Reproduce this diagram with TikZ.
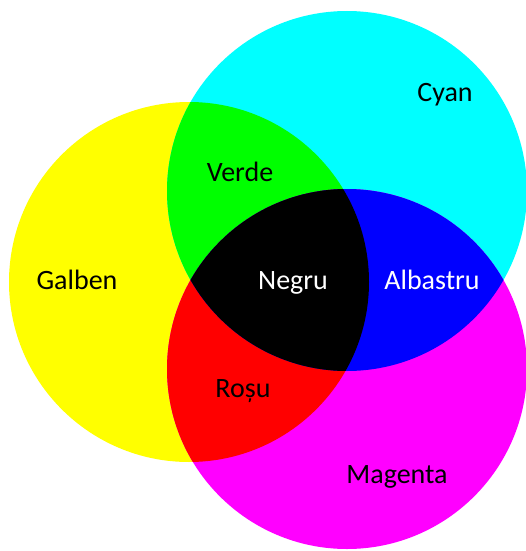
\documentclass[tikz,border=0pt]{standalone}
\usepackage{fontspec}
\setmainfont{Carlito}
\usepackage{tikz}
\definecolor{cyanfill}{RGB}{0,255,255}
\definecolor{magentafill}{RGB}{255,0,255}
\definecolor{yellowfill}{RGB}{255,255,0}
\definecolor{greenfill}{RGB}{0,255,0}
\definecolor{redfill}{RGB}{255,0,0}
\definecolor{bluefill}{RGB}{0,0,255}
\tikzset{
  mixlabel/.style = {anchor=base, inner sep=0pt, font=\fontsize{28}{34}\selectfont},
  darklabel/.style = {mixlabel, text=white}
}
\def\cyanpath{(347,191) circle (180)}
\def\magentapath{(347,369) circle (180)}
\def\yellowpath{(189,282) circle (180)}

\begin{document}
\begin{tikzpicture}[x=1pt, y=-1pt]
\useasboundingbox (0,0) rectangle (525,551);
% base circles
\fill[yellowfill]  \yellowpath;
\fill[cyanfill]    \cyanpath;
\fill[magentafill] \magentapath;
% pairwise overlaps
\begin{scope}
  \clip \yellowpath;
  \fill[greenfill] \cyanpath;
  \fill[redfill] \magentapath;
\end{scope}
\begin{scope}
  \clip \cyanpath;
  \fill[bluefill] \magentapath;
  \clip \magentapath;
  \fill[black] \yellowpath;
\end{scope}

\node[mixlabel]  (cyan)     at (445,101) {Cyan};
\node[mixlabel]  (verde)    at (240,181) {Verde};
\node[mixlabel]  (galben)   at (77,289)  {Galben};
\node[darklabel] (negru)    at (293,289) {Negru};
\node[darklabel] (albastru) at (432,289) {Albastru};
\node[mixlabel]  (rosu)     at (243,397) {Roșu};
\node[mixlabel]  (magenta)  at (397,483) {Magenta};
\end{tikzpicture}
\end{document}
